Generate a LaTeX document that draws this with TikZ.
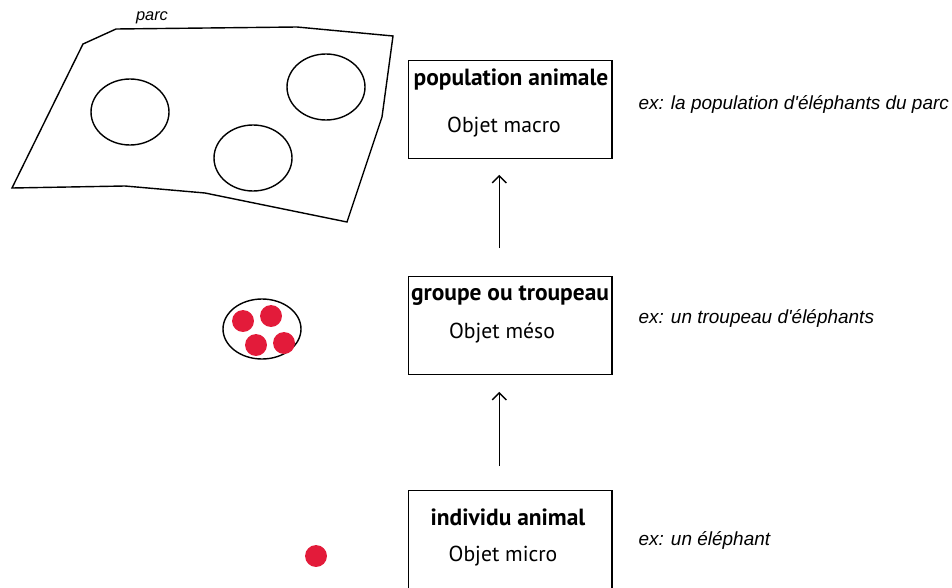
\documentclass[tikz,border=0pt]{standalone}
\usepackage{fontspec}
\setmainfont{PT Sans}
\newfontfamily\exfont{Liberation Sans}
\usepackage{xcolor}
\usepackage{tikz}
\usetikzlibrary{arrows.meta}
\definecolor{dotred}{HTML}{E31B3A}

\begin{document}
\begin{tikzpicture}[x=0.03cm, y=-0.03cm, line width=1.2pt,
  level/.style={draw, rectangle, minimum width=204*0.85pt, minimum height=98*0.85pt, anchor=north west, inner sep=0pt},
  ttl/.style={font=\fontsize{20}{22}\selectfont\bfseries},
  sub/.style={font=\fontsize{18.5}{20}\selectfont},
  ex/.style={font=\exfont\itshape\fontsize{16.2}{18}\selectfont, anchor=west},
  elephant/.style={circle, fill=dotred, minimum size=22*0.85pt, inner sep=0pt},
  up/.style={-{Straight Barb[length=6pt, width=12pt]}}]
\useasboundingbox (0,0) rectangle (952,588);

% Park
\draw (116,29) -- (297,27) -- (393,36) -- (382,117) -- (347,222) -- (205,193) -- (125,186) -- (12,188) -- (83,44) -- cycle;
\node[font=\exfont\itshape\fontsize{14}{16}\selectfont] (parc) at (152,18) {parc};
\foreach \x/\y in {130/112, 253/158, 326/87} {
    \draw (\x,\y) ellipse [x radius=39, y radius=33];
}

% Herd
\draw (262,329) ellipse [x radius=39, y radius=30];
\foreach \x/\y in {243/321, 271/316, 256/345, 284/343} {
    \node[elephant] at (\x,\y) {};
}

% Single elephant
\node[elephant] (one) at (316,556) {};

% Levels
\node[level] (macro) at (408,60) {};
\node[level] (meso) at (408,276) {};
\node[level] (micro) at (408,490) {};

\node[ttl] (macrottl) at (511,80) {population animale};
\node[sub] (macrosub) at (504,127) {Objet macro};
\node[ttl] (mesottl) at (510,296) {groupe ou troupeau};
\node[sub] (mesosub) at (502,333) {Objet méso};
\node[ttl] (microttl) at (508,517) {individu animal};
\node[sub] (microsub) at (503,556) {Objet micro};

% Examples
\node[ex] (macroex) at (634,104) {ex: la population d'éléphants du parc};
\node[ex] (mesoex) at (634,318) {ex: un troupeau d'éléphants};
\node[ex] (microex) at (634,540) {ex: un éléphant};

% Arrows
\draw[up, shorten <=28*0.85pt, shorten >=16*0.85pt] ([xshift=-9.4pt]meso.north) -- ([xshift=-9.4pt]macro.south);
\draw[up, shorten <=24*0.85pt, shorten >=17*0.85pt] ([xshift=-9.4pt]micro.north) -- ([xshift=-9.4pt]meso.south);
\end{tikzpicture}
\end{document}
